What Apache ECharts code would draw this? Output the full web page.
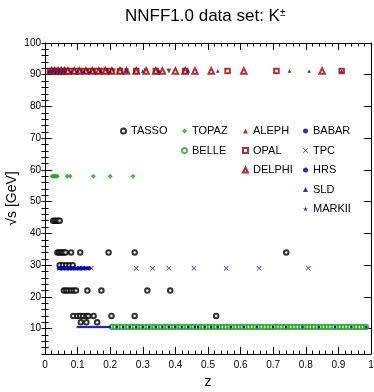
<!DOCTYPE html>
<html><head><meta charset="utf-8">
<script src="https://cdn.jsdelivr.net/npm/echarts@6/dist/echarts.min.js"></script>
<style>html,body{margin:0;padding:0;background:#fff}#c{width:374px;height:392px}</style>
</head><body><div id="c"></div>
<script>
// ---- data: [z, sqrt(s) GeV] ----
const tasso = [
  [0.025,44],[0.03,44],[0.035,44],[0.04,44],[0.045,44],
  [0.038,34],[0.043,34],[0.048,34],[0.053,34],[0.058,34],[0.063,34],[0.08,34],[0.108,34],[0.195,34],[0.275,34],[0.74,34],
  [0.045,30],[0.055,30],[0.065,30],[0.075,30],[0.085,30],
  [0.058,22],[0.065,22],[0.072,22],[0.08,22],[0.088,22],[0.095,22],[0.13,22],[0.173,22],[0.314,22],[0.384,22],
  [0.087,14],[0.099,14],[0.108,14],[0.117,14],[0.127,14],[0.133,14],[0.149,14],[0.204,14],[0.275,14],[0.525,14],
  [0.11,12],[0.127,12],[0.16,12]
];
const topaz = [[0.022,58],[0.026,58],[0.03,58],[0.034,58],[0.038,58],[0.068,58],[0.077,58],[0.148,58],[0.2,58],[0.27,58]];
const belleZ = [0.205,0.215,0.225,0.235,0.245,0.255,0.265,0.275,0.285,0.295,0.305,0.315,0.325,0.335,0.345,0.355,0.365,0.375,0.385,0.395,
  0.405,0.415,0.425,0.435,0.445,0.455,0.465,0.475,0.485,0.495,0.505,0.515,0.525,0.535,0.545,0.555,0.565,0.575,0.585,0.595,
  0.605,0.615,0.625,0.635,0.645,0.655,0.665,0.675,0.685,0.695,0.705,0.715,0.725,0.735,0.745,0.755,0.765,0.775,0.785,0.795,
  0.805,0.815,0.825,0.835,0.845,0.855,0.865,0.875,0.885,0.895,0.905,0.915,0.925,0.935,0.945,0.955,0.965,0.975,0.985];
const belleS = 10.52;
const alephZ = [0.013,0.018,0.023,0.028,0.033,0.038,0.043,0.048,0.055,0.065,0.075,0.085,0.095,0.11,0.13,0.15,0.17,0.19,0.21,0.25,0.31,0.38];
const opalZ = [0.015,0.025,0.035,0.045,0.055,0.065,0.08,0.1,0.12,0.14,0.16,0.18,0.2,0.23,0.28,0.34,0.43,0.56,0.71,0.91];
const delphiZ = [0.02,0.03,0.04,0.05,0.06,0.07,0.09,0.105,0.125,0.145,0.165,0.185,0.205,0.23,0.25,0.28,0.31,0.34,0.36,0.4,0.43,0.46,0.51,0.61,0.85];
const sldZ = [0.012,0.02,0.03,0.04,0.05,0.06,0.08,0.1,0.12,0.14,0.17,0.2,0.25,0.3,0.35,0.44,0.53,0.75,0.81,0.91];
const zPoleS = 91.2;
const babarZ = [0.1,0.105,0.11,0.115,0.12,0.125,0.13,0.135,0.14,0.145,0.15,0.155,0.16,0.165,0.17,0.175,0.18,0.185,0.19,0.195,0.2,
  0.22,0.24,0.26,0.28,0.3,0.32,0.34,0.36,0.38,0.4,0.42,0.44,0.46,0.47,0.49,0.51,0.53,0.57,0.61,0.65,0.7,0.74,0.79,0.84,0.89,0.94,0.985];
const babarS = 10.54;
const tpcZ = [0.045,0.055,0.065,0.075,0.085,0.095,0.105,0.115,0.142,0.28,0.33,0.38,0.457,0.556,0.657,0.808];
const hrsZ = [0.042,0.048,0.054,0.06,0.066,0.072,0.078,0.085,0.092,0.1,0.106,0.112,0.118,0.124,0.13,0.136];
const markiiZ = [0.05,0.06,0.07,0.08,0.09,0.1,0.11,0.12,0.13];
const s29 = 29;
const yMajor = [10,20,30,40,50,60,70,80,90,100];

const RED='#990000', BLUE='#000099', GREEN='#22a022', BLACK='#000000';
const pair = (zs, s) => zs.map(z => [z, s]);
const XSYM = 'path://M0,1L1,0L5,4L9,0L10,1L6,5L10,9L9,10L5,6L1,10L0,9L4,5Z';
const STAR = 'path://M5,0L6.2,3.6L10,3.6L6.9,5.9L8.1,9.5L5,7.3L1.9,9.5L3.1,5.9L0,3.6L3.8,3.6Z';
const F = 'Liberation Sans, Arial, Helvetica, sans-serif';

function sc(name, data, symbol, size, color, extra) {
  return Object.assign({
    type: 'scatter', name, data, symbol, symbolSize: size,
    itemStyle: { color }, xAxisIndex: 0, yAxisIndex: 0, silent: true, animation: false
  }, extra || {});
}

const series = [
  sc('TASSO', tasso, 'emptyCircle', 4.5, BLACK, { itemStyle: { color: BLACK, borderColor: BLACK, borderWidth: 2.2 } }),
  sc('TOPAZ', topaz, 'diamond', 5, GREEN),
  sc('BELLE', pair(belleZ, belleS), 'emptyCircle', 4.2, GREEN, { itemStyle: { color: GREEN, borderColor: GREEN, borderWidth: 1 } }),
  sc('ALEPH', pair(alephZ, zPoleS), 'triangle', 5, RED, { symbolRotate: 180 }),
  sc('OPAL', pair(opalZ, zPoleS), 'emptyRect', 4.5, RED, { itemStyle: { color: RED, borderColor: RED, borderWidth: 1.2 } }),
  sc('DELPHI', pair(delphiZ, zPoleS), 'emptyTriangle', 5.5, RED, { itemStyle: { color: RED, borderColor: RED, borderWidth: 1.6 } }),
  sc('BABAR', pair(babarZ, babarS), 'circle', 2.5, BLUE),
  sc('TPC', pair(tpcZ, s29), XSYM, 5, BLUE),
  sc('HRS', pair(hrsZ, s29), 'circle', 4, BLUE),
  sc('SLD', pair(sldZ, zPoleS), 'triangle', 3.5, BLUE),
  sc('MARKII', pair(markiiZ, s29), STAR, 5, BLUE)
];

const legBase = { orient: 'vertical', padding: 0, itemWidth: 5, itemHeight: 5, itemGap: 5.5,
  textStyle: { fontFamily: F, fontSize: 11, color: '#000', lineHeight: 14 }, selectedMode: false, top: 124 };
const legends = [
  Object.assign({}, legBase, { left: 120, data: [{ name: 'TASSO', itemStyle: { borderWidth: 1.5 } }] }),
  Object.assign({}, legBase, { left: 181, data: ['TOPAZ', { name: 'BELLE', itemStyle: { borderWidth: 1 } }] }),
  Object.assign({}, legBase, { left: 242, data: ['ALEPH', { name: 'OPAL', itemStyle: { borderWidth: 1 } }, { name: 'DELPHI', itemStyle: { borderWidth: 1 } }] }),
  Object.assign({}, legBase, { left: 303, data: ['BABAR', 'TPC', 'HRS', 'SLD', 'MARKII'] })
];

const xCommon = {
  type: 'value', min: 0, max: 1, interval: 0.1,
  axisLine: { show: true, onZero: false, lineStyle: { color: '#000', width: 1 } },
  axisTick: { show: true, inside: true, length: 7, lineStyle: { color: '#000' } },
  minorTick: { show: true, splitNumber: 5, length: 3.5, lineStyle: { color: '#000' } },
  splitLine: { show: false }, minorSplitLine: { show: false }
};
const xAxis = [
  Object.assign({}, xCommon, { position: 'bottom',
    axisLabel: { show: true, fontFamily: F, fontSize: 10, color: '#000', margin: 6 },
    name: 'z', nameLocation: 'middle', nameGap: 21, nameMoveOverlap: false,
    nameTextStyle: { fontFamily: F, fontSize: 14, color: '#000' } }),
  Object.assign({}, xCommon, { position: 'top', axisLabel: { show: false } })
];
const yBase = { type: 'value', min: 2, max: 100, splitLine: { show: false } };
const yAxis = [
  Object.assign({}, yBase, { position: 'left',
    axisLine: { show: true, onZero: false, lineStyle: { color: '#000', width: 1 } },
    axisTick: { show: true, inside: true, length: 7, customValues: yMajor, lineStyle: { color: '#000' } },
    axisLabel: { show: true, customValues: yMajor, fontFamily: F, fontSize: 10, color: '#000', margin: 4 },
    name: '\u221As [GeV]', nameLocation: 'middle', nameGap: 26, nameRotate: 90, nameMoveOverlap: false,
    nameTextStyle: { fontFamily: F, fontSize: 14, color: '#000' } }),
  Object.assign({}, yBase, { position: 'left', interval: 2,
    axisLine: { show: false }, axisLabel: { show: false },
    axisTick: { show: true, inside: true, length: 3.5, lineStyle: { color: '#000' } } }),
  Object.assign({}, yBase, { position: 'right',
    axisLine: { show: true, onZero: false, lineStyle: { color: '#000', width: 1 } },
    axisTick: { show: true, inside: true, length: 7, customValues: yMajor, lineStyle: { color: '#000' } },
    axisLabel: { show: false } }),
  Object.assign({}, yBase, { position: 'right', interval: 2,
    axisLine: { show: false }, axisLabel: { show: false },
    axisTick: { show: true, inside: true, length: 3.5, lineStyle: { color: '#000' } } })
];

const chart = echarts.init(document.getElementById('c'), null, { renderer: 'canvas' });
chart.setOption({
  animation: false,
  backgroundColor: '#fff',
  title: { text: 'NNFF1.0 data set: K{sup|\u00B1}', left: 125, top: 8, padding: 0,
    textStyle: { fontFamily: F, fontSize: 17, fontWeight: 'normal', color: '#000',
      rich: { sup: { fontFamily: F, fontSize: 10, verticalAlign: 'top', color: '#000' } } } },
  grid: { left: 45, right: 3, top: 43, bottom: 38, containLabel: false, outerBoundsMode: 'none' },
  legend: legends,
  xAxis, yAxis, series
});
</script></body></html>
